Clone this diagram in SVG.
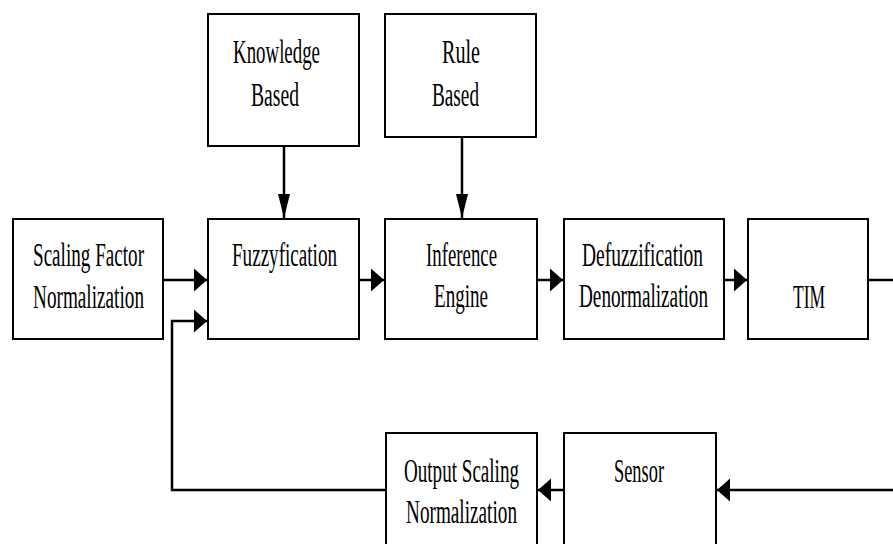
<svg xmlns="http://www.w3.org/2000/svg" width="893" height="544" viewBox="0 0 893 544">
<style>
.box{fill:#fff;stroke:#000;stroke-width:2}
.lbl{font-family:'Liberation Serif','Times New Roman',Times,'DejaVu Serif',serif;font-size:33px;fill:#000;text-anchor:middle}
.con{fill:none;stroke:#000;stroke-width:2.5}
</style>
<defs>
<marker id="ah" markerUnits="userSpaceOnUse" markerWidth="13" markerHeight="23" refX="13" refY="11.5" orient="auto" overflow="visible">
<path d="M0,0 L13,11.5 L0,23 Z" fill="#000"/>
</marker>
<marker id="av" markerUnits="userSpaceOnUse" markerWidth="24" markerHeight="12" refX="24" refY="6" orient="auto" overflow="visible">
<path d="M0,0 L24,6 L0,12 Z" fill="#000"/>
</marker>
</defs>
<rect width="893" height="544" fill="#fff"/>
<g id="connectors">
<path class="con" d="M284 146 V218" marker-end="url(#av)"/>
<path class="con" d="M462 137 V218" marker-end="url(#av)"/>
<path class="con" d="M163 280 H207" marker-end="url(#ah)"/>
<path class="con" d="M359 280 H384" marker-end="url(#ah)"/>
<path class="con" d="M537 280 H563" marker-end="url(#ah)"/>
<path class="con" d="M724 280 H747" marker-end="url(#ah)"/>
<path class="con" d="M868 280 H893"/>
<path class="con" d="M893 490 H717" marker-end="url(#ah)"/>
<path class="con" d="M564 490 H538" marker-end="url(#ah)"/>
<path class="con" d="M386 490 H172 V321 H207" marker-end="url(#ah)"/>
</g>
<g font-family="Liberation Serif, Times New Roman, DejaVu Serif, serif">
<g id="knowledge">
<rect class="box" x="208" y="14" width="151" height="132"/>
<text class="lbl" x="276.5" y="63" textLength="87" lengthAdjust="spacingAndGlyphs">Knowledge</text>
<text class="lbl" x="275" y="106" textLength="48" lengthAdjust="spacingAndGlyphs">Based</text>
</g>
<g id="rule">
<rect class="box" x="385" y="14" width="151" height="123"/>
<text class="lbl" x="461" y="63" textLength="38" lengthAdjust="spacingAndGlyphs">Rule</text>
<text class="lbl" x="455.5" y="106" textLength="47" lengthAdjust="spacingAndGlyphs">Based</text>
</g>
<g id="scaling">
<rect class="box" x="13" y="219" width="150" height="120"/>
<text class="lbl" x="88.5" y="266" textLength="111" lengthAdjust="spacingAndGlyphs">Scaling Factor</text>
<text class="lbl" x="88.5" y="308" textLength="111" lengthAdjust="spacingAndGlyphs">Normalization</text>
</g>
<g id="fuzzy">
<rect class="box" x="208" y="219" width="151" height="120"/>
<text class="lbl" x="284.5" y="266" textLength="105" lengthAdjust="spacingAndGlyphs">Fuzzyfication</text>
</g>
<g id="inference">
<rect class="box" x="385" y="219" width="152" height="120"/>
<text class="lbl" x="461.5" y="266" textLength="71" lengthAdjust="spacingAndGlyphs">Inference</text>
<text class="lbl" x="461" y="307" textLength="54" lengthAdjust="spacingAndGlyphs">Engine</text>
</g>
<g id="defuzz">
<rect class="box" x="564" y="219" width="160" height="120"/>
<text class="lbl" x="642.5" y="266" textLength="121" lengthAdjust="spacingAndGlyphs">Defuzzification</text>
<text class="lbl" x="643.5" y="307" textLength="129" lengthAdjust="spacingAndGlyphs">Denormalization</text>
</g>
<g id="tim">
<rect class="box" x="748" y="219" width="120" height="120"/>
<text class="lbl" x="809" y="308" textLength="32" lengthAdjust="spacingAndGlyphs">TIM</text>
</g>
<g id="output">
<rect class="box" x="386" y="433" width="151" height="120"/>
<text class="lbl" x="461.5" y="482" textLength="115" lengthAdjust="spacingAndGlyphs">Output Scaling</text>
<text class="lbl" x="461.5" y="523" textLength="111" lengthAdjust="spacingAndGlyphs">Normalization</text>
</g>
<g id="sensor">
<rect class="box" x="564" y="433" width="152" height="120"/>
<text class="lbl" x="639" y="482" textLength="50" lengthAdjust="spacingAndGlyphs">Sensor</text>
</g>
</g>
</svg>
